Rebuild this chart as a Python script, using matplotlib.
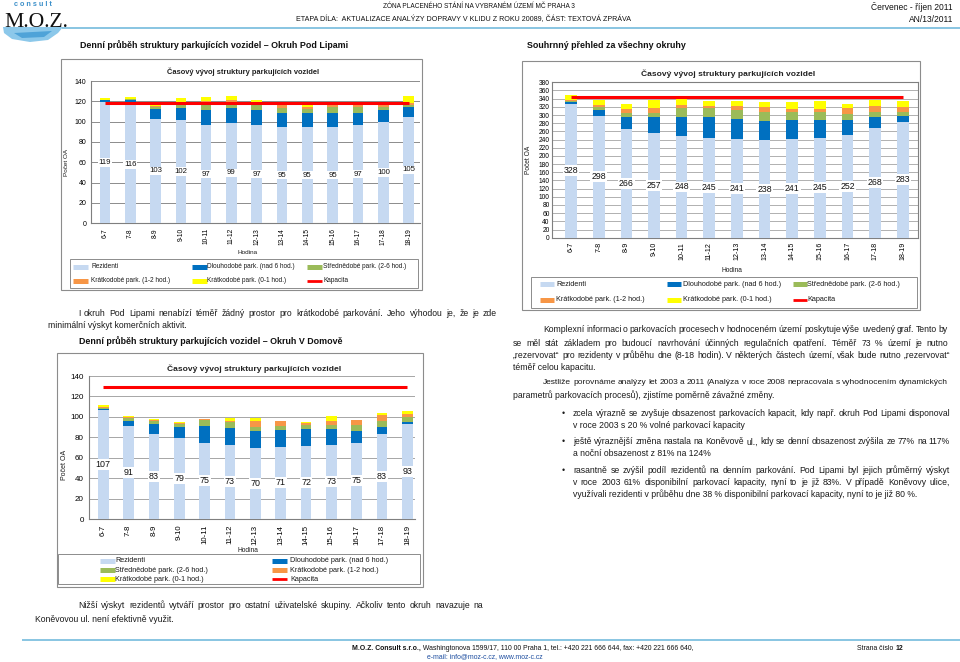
import numpy as np
import matplotlib
matplotlib.use("Agg")
import matplotlib.pyplot as plt
from matplotlib.patches import Rectangle, Polygon
from matplotlib.lines import Line2D

#%% data
hours = ['6-7', '7-8', '8-9', '9-10', '10-11', '11-12', '12-13',
         '13-14', '14-15', '15-16', '16-17', '17-18', '18-19']
series = ['Rezidenti', 'Dlouhodobé park. (nad 6 hod.)', 'Střednědobé park. (2-6 hod.)',
          'Krátkodobé park. (1-2 hod.)', 'Krátkodobé park. (0-1 hod.)']
cap_name = 'Kapacita'
colors = ['#C6D9F1', '#0070C0', '#9BBB59', '#F79646', '#FFFF00']
cap_color = '#FF0000'

# Okruh Pod Lipami
lip_rez = [119, 116, 103, 102, 97, 99, 97, 95, 95, 95, 97, 100, 105]
lip_dl = [2, 5, 9, 11, 14, 14, 14, 14, 14, 14, 12, 11, 9]
lip_st = [0, 1, 2, 4, 5, 5, 6, 4, 3, 5, 5, 3, 2]
lip_k12 = [0, 0, 1, 1, 4, 3, 2, 3, 2, 2, 2, 3, 2]
lip_k01 = [2, 2, 1, 5, 4, 4, 2, 1, 2, 1, 3, 2, 7]
lip_kap = 118

# vsechny okruhy
all_rez = [328, 298, 266, 257, 248, 245, 241, 238, 241, 245, 252, 268, 283]
all_dl = [4, 14, 30, 39, 46, 49, 49, 48, 47, 43, 35, 26, 15]
all_st = [2, 8, 10, 10, 22, 24, 23, 22, 19, 19, 16, 13, 9]
all_k12 = [2, 4, 8, 10, 8, 5, 8, 11, 8, 8, 13, 16, 12]
all_k01 = [12, 12, 14, 20, 14, 11, 14, 14, 18, 20, 12, 14, 16]
all_kap = 345

# Okruh V Domove
dom_rez = [107, 91, 83, 79, 75, 73, 70, 71, 72, 73, 75, 83, 93]
dom_dl = [1, 5, 10, 11, 16, 16, 16, 16, 16, 15, 11, 7, 2]
dom_st = [1, 3, 3, 3, 6, 6, 4, 4, 4, 4, 6, 6, 5]
dom_k12 = [1, 1, 1, 1, 1, 1, 6, 5, 2, 4, 5, 6, 3]
dom_k01 = [2, 1, 1, 1, 0, 3, 3, 0, 1, 5, 0, 2, 3]
dom_kap = 129

head1 = 'ZÓNA PLACENÉHO STÁNÍ NA VYBRANÉM ÚZEMÍ MČ PRAHA 3'
head2 = 'ETAPA DÍLA:  AKTUALIZACE ANALÝZY DOPRAVY V KLIDU Z ROKU 20089, ČÁST: TEXTOVÁ ZPRÁVA'
date_txt = 'Červenec - říjen 2011'
code_txt = 'AN/13/2011'
title_lip = 'Denní průběh struktury parkujících vozidel – Okruh Pod Lipami'
title_all = 'Souhrnný přehled za všechny okruhy'
title_dom = 'Denní průběh struktury parkujících vozidel – Okruh V Domově'
chart_title = 'Časový vývoj struktury parkujících vozidel'

par_lip = ['I okruh Pod Lipami nenabízí téměř žádný prostor pro krátkodobé parkování. Jeho výhodou je, že je zde',
           'minimální výskyt komerčních aktivit.']
par_dom = ['Nižší výskyt rezidentů vytváří prostor pro ostatní uživatelské skupiny. Ačkoliv tento okruh navazuje na',
           'Koněvovou ul. není efektivně využit.']
par_r1 = ['Komplexní informaci o parkovacích procesech v hodnoceném území poskytuje výše uvedený graf. Tento by',
          'se měl stát základem pro budoucí navrhování účinných regulačních opatření. Téměř 73 % území je nutno',
          '„rezervovat“ pro rezidenty v průběhu dne (8-18 hodin). V některých částech území, však bude nutno „rezervovat“',
          'téměř celou kapacitu.']
par_r2 = ['Jestliže porovnáme analýzy let 2003 a 2011 (Analýza v roce 2008 nepracovala s vyhodnocením dynamických',
          'parametrů parkovacích procesů), zjistíme poměrně závažné změny.']
bullets = [['zcela výrazně se zvyšuje obsazenost parkovacích kapacit, kdy např. okruh Pod Lipami disponoval',
            'v roce 2003 s 20 % volné parkovací kapacity'],
           ['ještě výraznější změna nastala na Koněvově ul., kdy se denní obsazenost zvýšila ze 77% na 117%',
            'a noční obsazenost z 81% na 124%'],
           ['rasantně se zvýšil podíl rezidentů na denním parkování. Pod Lipami byl jejich průměrný výskyt',
            'v roce 2003 61% disponibilní parkovací kapacity, nyní to je již 83%. V případě Koněvovy ulice,',
            'využívali rezidenti v průběhu dne 38 % disponibilní parkovací kapacity, nyní to je již 80 %.']]
foot_bold = 'M.O.Z. Consult s.r.o.,'
foot_rest = ' Washingtonova 1599/17, 110 00 Praha 1, tel.: +420 221 666 644, fax: +420 221 666 640,'
foot_mail = 'e-mail: info@moz-c.cz, www.moz-c.cz'

#%% helpers (pixel coords, origin top-left)
W, H = 960, 662
fig = plt.figure(figsize=(W / 100, H / 100), dpi=100)
fig.patch.set_facecolor('white')
R = fig.canvas.get_renderer()
SANS = ['Liberation Sans', 'DejaVu Sans']
TXT = '#1a1a1a'
MINGAP = 2.0


def fp(x, y):
    return x / W, 1 - y / H


def put(x, y, s, size, ha='left', va='center', family=SANS, **kw):
    return fig.text(x / W, 1 - y / H, s, fontsize=size, ha=ha, va=va,
                    family=family, color=kw.pop('color', TXT), **kw)


def wid(t):
    return t.get_window_extent(renderer=R).width


def fit(x0, x1, y, s, **kw):
    t = put(x0, y, s, 10, **kw)
    t.set_fontsize(10 * (x1 - x0) / wid(t))
    return t


def max_size(x0, x1, s):
    words = s.split()
    ts = [put(0, 0, w, 10) for w in words]
    total = sum(wid(t) for t in ts)
    for t in ts:
        t.remove()
    return 10 * (x1 - x0 - MINGAP * (len(words) - 1)) / total


def justify(x0, x1, y, s, size, **kw):
    words = s.split()
    ts = [put(x0, y, w, size, **kw) for w in words]
    ws = [wid(t) for t in ts]
    gap = (x1 - x0 - sum(ws)) / max(len(words) - 1, 1)
    x = x0
    for t, w in zip(ts, ws):
        t.set_position(fp(x, y))
        x += w + gap


def frame(x0, y0, x1, y1, ec='#8c8c8c', lw=0.8):
    fig.add_artist(Rectangle((x0 / W, 1 - y1 / H), (x1 - x0) / W, (y1 - y0) / H,
                             transform=fig.transFigure, fill=False, ec=ec, lw=lw))


def hline(x0, x1, y, c, lw):
    fig.add_artist(Line2D([x0 / W, x1 / W], [1 - y / H] * 2, color=c, lw=lw,
                          solid_capstyle='butt'))


def chart(plot, xlim, data, kap, ymax, ystep, grid, fs, border=False):
    x0, y0, x1, y1 = plot
    ax = fig.add_axes([x0 / W, 1 - y1 / H, (x1 - x0) / W, (y1 - y0) / H])
    x = np.arange(len(hours))
    bottom = np.zeros(len(hours))
    for vals, c in zip(data, colors):
        ax.bar(x, vals, 0.42, bottom=bottom, color=c, lw=0, zorder=3)
        bottom += np.array(vals)
    ax.plot(x, np.full(len(x), kap), color=cap_color, lw=2.2, zorder=4,
            solid_capstyle='butt')
    for i, v in enumerate(data[0]):
        ax.text(i, v / 2, str(v), ha='center', va='center', fontsize=fs['lab'],
                family=SANS, color='#111111', zorder=5,
                bbox=dict(fc='white', ec='none', pad=0.7))
    ax.set_xlim(*xlim)
    ax.set_ylim(0, ymax)
    ax.set_yticks(np.arange(0, ymax + 1, ystep))
    ax.set_xticks(x, hours, rotation=90)
    ax.tick_params(axis='y', length=0, pad=fs['ypad'], labelsize=fs['ytick'])
    ax.tick_params(axis='x', length=0, pad=fs['xpad'], labelsize=fs['xtick'])
    for lab in ax.get_xticklabels() + ax.get_yticklabels():
        lab.set_family(SANS)
    ax.yaxis.grid(True, color=grid, lw=0.7)
    ax.set_axisbelow(True)
    for s in ['top', 'right']:
        ax.spines[s].set_visible(border)
    for s in ax.spines:
        ax.spines[s].set_color('#7f7f7f')
        ax.spines[s].set_linewidth(0.8)
    return ax


def legend(box, rows, cols, hlen, size):
    frame(*box, ec='#8c8c8c', lw=0.7)
    ncol = len(cols)
    for k, (name, c) in enumerate(zip(series + [cap_name], colors + [cap_color])):
        r, ci = divmod(k, ncol)
        hx, tx = cols[ci]
        y = rows[r]
        hline(hx, hx + hlen, y, c, 2.0 if name == cap_name else 3.6)
        put(tx, y, name, size)


#%% body text layout: (x0, x1, y, text, justified)
body = [(78, 497, 313, par_lip[0], True), (48, 497, 326, par_lip[1], False),
        (78, 483, 606, par_dom[0], True), (35, 483, 619, par_dom[1], False),
        (543, 948, 330, par_r1[0], True), (513, 948, 343, par_r1[1], True),
        (513, 950, 355, par_r1[2], True), (513, 948, 367, par_r1[3], False),
        (543, 948, 383, par_r2[0], True), (513, 948, 395, par_r2[1], False)]
bullet_y = [[414, 426], [442, 454], [470.5, 482.3, 494]]
for lines, ys in zip(bullets, bullet_y):
    for k, (s, y) in enumerate(zip(lines, ys)):
        body.append((573, 950, y, s, k < len(lines) - 1))

sizes = [max_size(a, b, s) for a, b, y, s, j in body if j]
BODY = min(6.6, float(np.median(sizes)) * 0.95)
for a, b, y, s, j in body:
    if j:
        justify(a, b, y, s, min(BODY, max_size(a, b, s)))
    else:
        put(a, y, s, BODY)
for ys in bullet_y:
    put(563, ys[0], '•', BODY, ha='center')

#%% header
put(33, 4.5, 'c o n s u l t', 5.2, ha='center', color='#3b8fc9', weight='bold')
fig.add_artist(Polygon([fp(3, 27), fp(63, 27), fp(58, 33), fp(48, 40), fp(30, 42),
                        fp(12, 39), fp(4, 33)], closed=True, fc='#8cc8ea', ec='none',
                       transform=fig.transFigure))
fig.add_artist(Polygon([fp(14, 33), fp(52, 31), fp(44, 37), fp(22, 38)], closed=True,
                       fc='#4fa3d8', ec='none', transform=fig.transFigure))
moz = fit(4, 68, 20, 'M.O.Z.', family=['Liberation Serif', 'DejaVu Serif'],
          color='#111111', va='baseline')
moz.set_position(fp(4, 27))
hline(62, 960, 28, '#7fc0df', 1.3)
h1 = fit(383, 577, 7, head1, color='#111111')
hs = h1.get_fontsize()
fit(296, 631, 19, head2, color='#111111')
put(953, 7, date_txt, hs * 1.3, ha='right', color='#111111')
put(953, 19, code_txt, hs * 1.3, ha='right', color='#111111')

t1 = fit(80, 347, 45, title_lip, weight='bold', color='#111111')
put(527, 45, title_all, t1.get_fontsize(), weight='bold', color='#111111')
put(79, 341, title_dom, t1.get_fontsize(), weight='bold', color='#111111')

#%% chart Pod Lipami
frame(61, 59, 422, 290)
chart((91, 81, 420, 223.3), (-0.55, 12.45),
      [lip_rez, lip_dl, lip_st, lip_k12, lip_k01], lip_kap, 140, 20, '#8c8c8c',
      dict(lab=5.6, ytick=5.0, xtick=4.8, ypad=3.5, xpad=3.5))
fit(167, 320, 71.7, chart_title, weight='bold', color='#222222')
put(66, 162, 'Počet OA', 4.6, ha='center', rotation=90)
put(248, 252.7, 'Hodina', 4.6, ha='center')
legend((70, 259, 418, 288), [266.7, 280.7], [(73, 91), (192, 207), (307, 323)], 15, 4.7)

#%% chart all
frame(522, 61, 920, 310)
chart((551.7, 82.3, 918, 237.7), (-0.7, 12.55),
      [all_rez, all_dl, all_st, all_k12, all_k01], all_kap, 380, 20, '#b0b0b0',
      dict(lab=6.3, ytick=4.8, xtick=5.1, ypad=1.5, xpad=3.0), border=True)
fit(641, 813, 74, chart_title, weight='bold', color='#222222')
put(528, 160, 'Počet OA', 4.8, ha='center', rotation=90)
put(731.7, 270.7, 'Hodina', 4.8, ha='center')
legend((531, 277, 917, 308), [284, 299.5], [(540, 556), (667, 683), (793, 807)], 14, 5.2)

#%% chart V Domove
frame(57, 353, 423, 587)
chart((89.3, 376, 415, 519.3), (-0.55, 12.3),
      [dom_rez, dom_dl, dom_st, dom_k12, dom_k01], dom_kap, 140, 20, '#a6a6a6',
      dict(lab=6.4, ytick=5.8, xtick=5.6, ypad=4.0, xpad=4.0))
fit(167, 338, 369, chart_title, weight='bold', color='#222222')
put(65, 465, 'Počet OA', 5.0, ha='center', rotation=90)
put(248, 551, 'Hodina', 4.8, ha='center')
legend((58, 554, 420, 583.5), [560.7, 570, 579.3], [(100, 115), (272, 290)], 15, 5.2)

#%% footer
hline(22, 960, 640, '#7fc0df', 1.3)
tb = put(352, 648, foot_bold, 10, weight='bold', color='#111111')
tr_ = put(352, 648, foot_rest, 10, color='#111111')
sc = 340 / (wid(tb) + wid(tr_))
tb.set_fontsize(10 * sc)
tr_.set_fontsize(10 * sc)
tr_.set_position(fp(352 + wid(tb), 648))
put(485, 657, foot_mail, 10 * sc, ha='center', color='#1f4fa0')
ts = put(857, 648, 'Strana číslo ', 10 * sc, color='#111111')
put(857 + wid(ts), 648, '12', 10 * sc, weight='bold', color='#111111')

fig.savefig('out.png', dpi=100, facecolor='white')
